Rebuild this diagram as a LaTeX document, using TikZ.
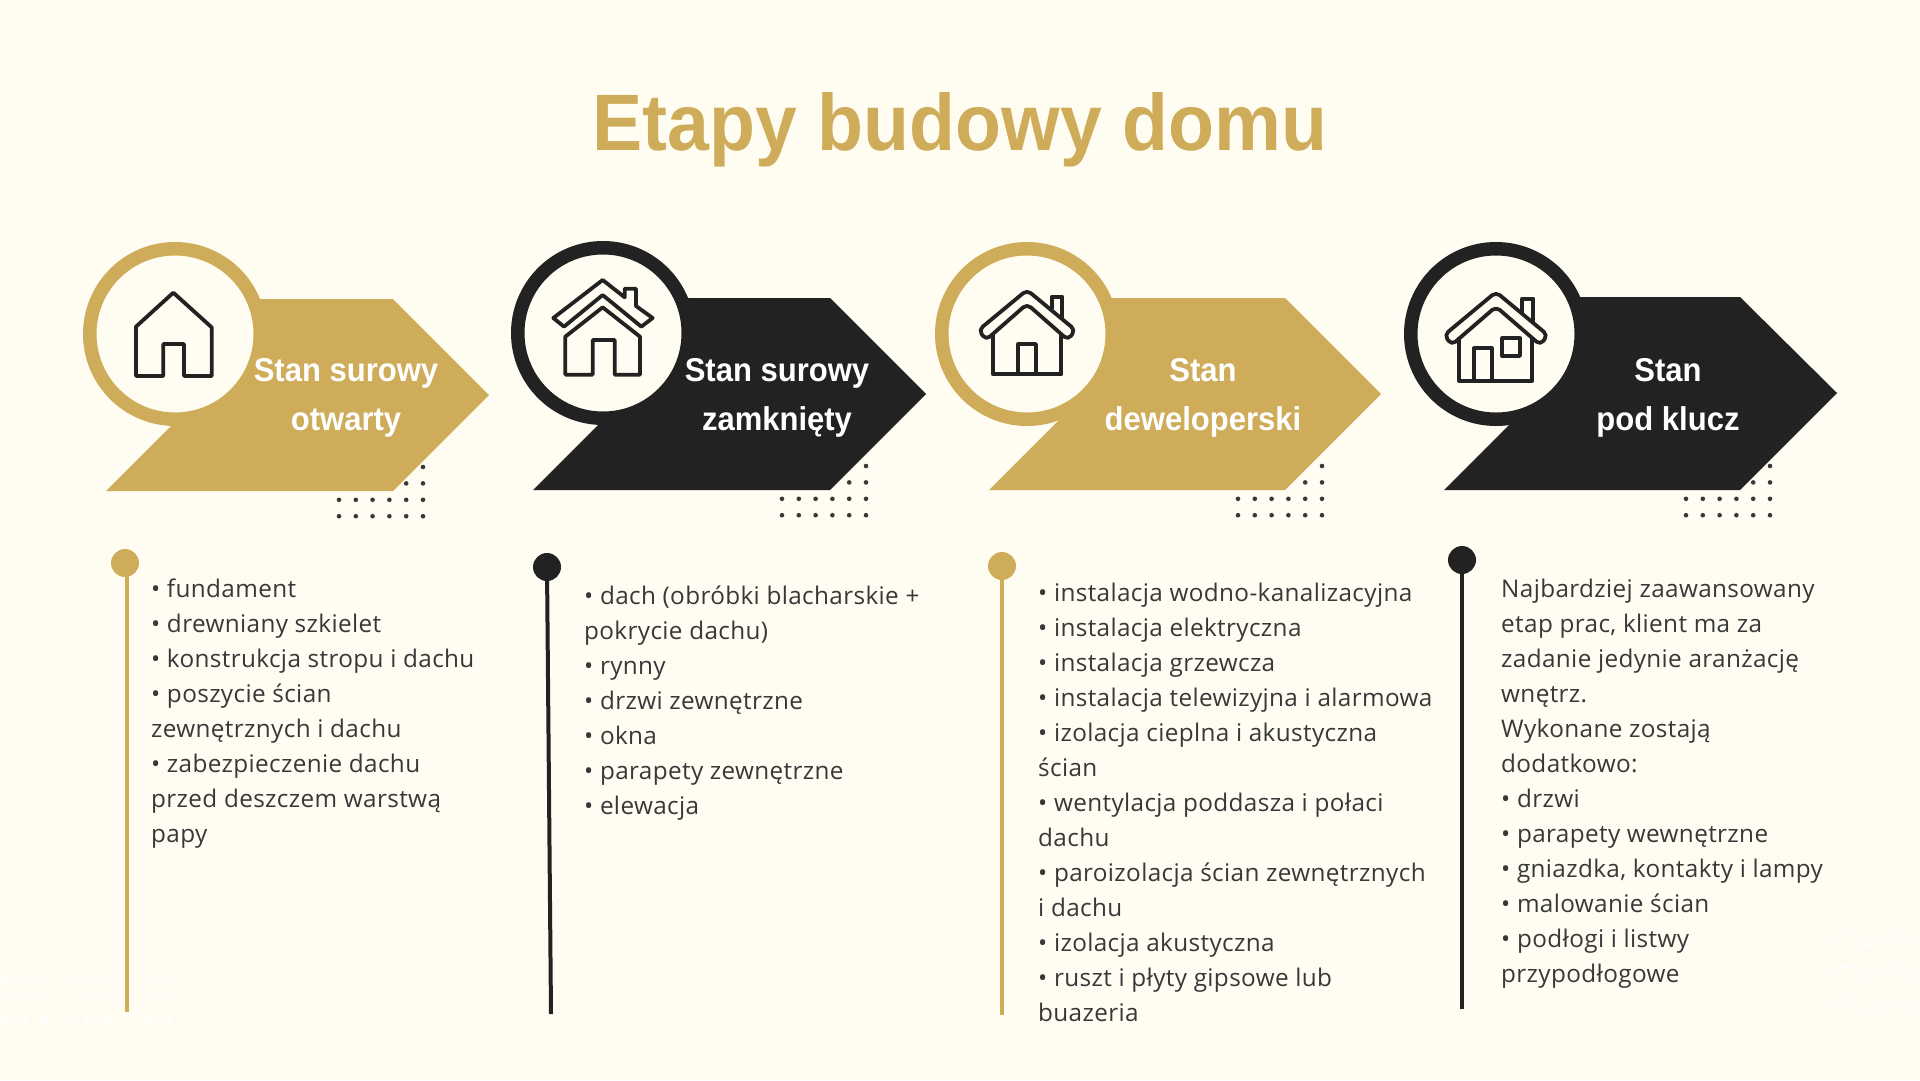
\documentclass[tikz,border=0pt]{standalone}
\usepackage{fontspec}
\setmainfont{Open Sans}[LetterSpace=1.5]
\newfontfamily\headfont{Liberation Sans}[FakeStretch=0.94]
\definecolor{paper}{HTML}{FFFDF2}
\definecolor{paperlight}{HTML}{FFFEFA}
\definecolor{gold}{HTML}{CEAC5A}
\definecolor{ink}{HTML}{222222}
\definecolor{bodyink}{HTML}{383838}
\tikzset{
  ring/.style={circle, draw=#1, line width=13.5pt, fill=paper, minimum size=170.5pt, inner sep=0pt},
  knob/.style={circle, fill=#1, minimum size=28pt, inner sep=0pt},
  stem/.style={draw=#1, line width=4pt},
  bodytext/.style={anchor=north west, inner sep=0pt, align=left, text=bodyink, font=\fontsize{24.3}{35}\selectfont},
  banner/.style={text=white, align=center, inner sep=0pt, font=\headfont\bfseries\fontsize{33}{49}\selectfont},
  icon/.style 2 args={shift={(#1,#2)}, x=0.3333pt, y=-0.3333pt, draw=ink, line width=3.8pt, line join=round},
}
\newcommand{\dotpatch}[2]{
  \foreach \i in {0,...,5}
    \foreach \j in {2,3}
      \fill[bodyink] (#1+16.8*\i,#2+16.4*\j) circle (2.3pt);
  \fill[bodyink] (#1+84,#2) circle (2.3pt);
  \fill[bodyink] (#1+67.2,#2+16.4) circle (2.3pt);
  \fill[bodyink] (#1+84,#2+16.4) circle (2.3pt);
}
\begin{document}
\begin{tikzpicture}[x=1pt,y=-1pt]
  \fill[paper] (0,0) rectangle (1920,1080);
  \useasboundingbox (0,0) rectangle (1920,1080);

  % faint background pattern
  \foreach \i in {0,...,8}
    \foreach \j in {0,...,3}
      \fill[paperlight] (4+20.7*\i,978+20.6*\j) circle (3.5pt);
  \foreach \j in {0,1,2}
    \draw[paperlight, line width=3pt] (1830,943+33.3*\j) .. controls (1842,930+33.3*\j) and (1848,930+33.3*\j) .. (1857,938+33.3*\j)
      .. controls (1866,948+33.3*\j) and (1870,948+33.3*\j) .. (1880,940+33.3*\j)
      .. controls (1888,930+33.3*\j) and (1892,930+33.3*\j) .. (1900,940+33.3*\j)
      .. controls (1908,948+33.3*\j) and (1912,948+33.3*\j) .. (1920,933+33.3*\j);

  \node[text=gold, font=\headfont\bfseries\fontsize{80}{90}\selectfont, inner sep=0pt] (title) at (960,130) {Etapy budowy domu};

  % dots under the arrows
  \dotpatch{339}{467}
  \dotpatch{782}{466}
  \dotpatch{1238}{466}
  \dotpatch{1686}{466}

  % arrows
  \fill[gold] (106,491) -- (393,491) -- (489,395) -- (393,299) -- (200,299) -- (200,397) -- cycle;
  \fill[ink] (533,490) -- (830,490) -- (926,394) -- (830,298) -- (640,298) -- (629,394) -- cycle;
  \fill[gold] (989,490) -- (1285,490) -- (1381,394) -- (1285,298) -- (1060,298) -- (1085,394) -- cycle;
  \fill[ink] (1444,490) -- (1740,490) -- (1837,393) -- (1740,297) -- (1530,297) -- (1541,393) -- cycle;

  \node[ring=gold] (ring1) at (175,334) {};
  \node[ring=ink] (ring2) at (603,333) {};
  \node[ring=gold] (ring3) at (1027,334) {};
  \node[ring=ink] (ring4) at (1496,334) {};

  % houses
  \begin{scope}[icon={60}{220}]
    \draw (340,218) -- (228,320) -- (228,468) -- (310,468) -- (310,372) -- (372,372) -- (372,468) -- (455,468) -- (455,322) -- cycle;
  \end{scope}
  \begin{scope}[icon={500}{220}]
    \draw (308,262) -- (196,350) -- (196,464) -- (278,464) -- (278,360) -- (344,360) -- (344,464) -- (420,464) -- (420,350) -- cycle;
    \draw (160,294) -- (308,180) -- (374,232) -- (374,206) -- (408,206) -- (408,258) -- (458,294) -- (424,320) -- (308,225) -- (192,320) -- cycle;
  \end{scope}
  \begin{scope}[icon={920}{220}]
    \draw[rounded corners=5pt] (321,210) -- (176,330) -- (198,360) -- (321,252) -- (444,360) -- (466,330) -- cycle;
    \draw (395,268) -- (395,230) -- (427,230) -- (427,295);
    \draw (220,340) -- (220,463) -- (424,463) -- (424,340);
    \draw (295,463) -- (295,372) -- (348,372) -- (348,463);
  \end{scope}
  \begin{scope}[icon={1390}{220}]
    \draw[rounded corners=5pt] (318,216) -- (163,345) -- (185,375) -- (318,260) -- (451,375) -- (473,345) -- cycle;
    \draw (397,280) -- (397,236) -- (430,236) -- (430,310);
    \draw (208,352) -- (208,482) -- (427,482) -- (427,352);
    \draw (252,482) -- (252,385) -- (305,385) -- (305,482);
    \draw (337,355) rectangle (390,408);
  \end{scope}

  \node[banner] (label1) at (346,398) {Stan surowy\\otwarty};
  \node[banner] (label2) at (777,398) {Stan surowy\\zamknięty};
  \node[banner] (label3) at (1203,398) {Stan\\deweloperski};
  \node[banner] (label4) at (1668,398) {Stan\\pod klucz};

  % timelines
  \node[knob=gold] (knob1) at (125,563) {};
  \node[knob=ink] (knob2) at (547,567) {};
  \node[knob=gold] (knob3) at (1002,566) {};
  \node[knob=ink] (knob4) at (1462,560) {};
  \coordinate (top1) at (127,570);
  \coordinate (end1) at (127,1012);
  \coordinate (end2) at (551,1014);
  \coordinate (end3) at (1002,1015);
  \coordinate (end4) at (1462,1009);
  \draw[stem=gold] (top1) -- (end1);
  \draw[stem=ink] (knob2) -- (end2);
  \draw[stem=gold] (knob3) -- (end3);
  \draw[stem=ink] (knob4) -- (end4);

  % lists
  \node[bodytext] (list1) at (151,579) {• fundament\\• drewniany szkielet\\• konstrukcja stropu i dachu\\• poszycie ścian\\zewnętrznych i dachu\\• zabezpieczenie dachu\\przed deszczem warstwą\\papy};
  \node[bodytext] (list2) at (584,586) {• dach (obróbki blacharskie +\\pokrycie dachu)\\• rynny\\• drzwi zewnętrzne\\• okna\\• parapety zewnętrzne\\• elewacja};
  \node[bodytext] (list3) at (1038,583) {• instalacja wodno-kanalizacyjna\\• instalacja elektryczna\\• instalacja grzewcza\\• instalacja telewizyjna i alarmowa\\• izolacja cieplna i akustyczna\\ścian\\• wentylacja poddasza i połaci\\dachu\\• paroizolacja ścian zewnętrznych\\i dachu\\• izolacja akustyczna\\• ruszt i płyty gipsowe lub\\buazeria};
  \node[bodytext] (list4) at (1501,579) {Najbardziej zaawansowany\\etap prac, klient ma za\\zadanie jedynie aranżację\\wnętrz.\\Wykonane zostają\\dodatkowo:\\• drzwi\\• parapety wewnętrzne\\• gniazdka, kontakty i lampy\\• malowanie ścian\\• podłogi i listwy\\przypodłogowe};
\end{tikzpicture}
\end{document}
